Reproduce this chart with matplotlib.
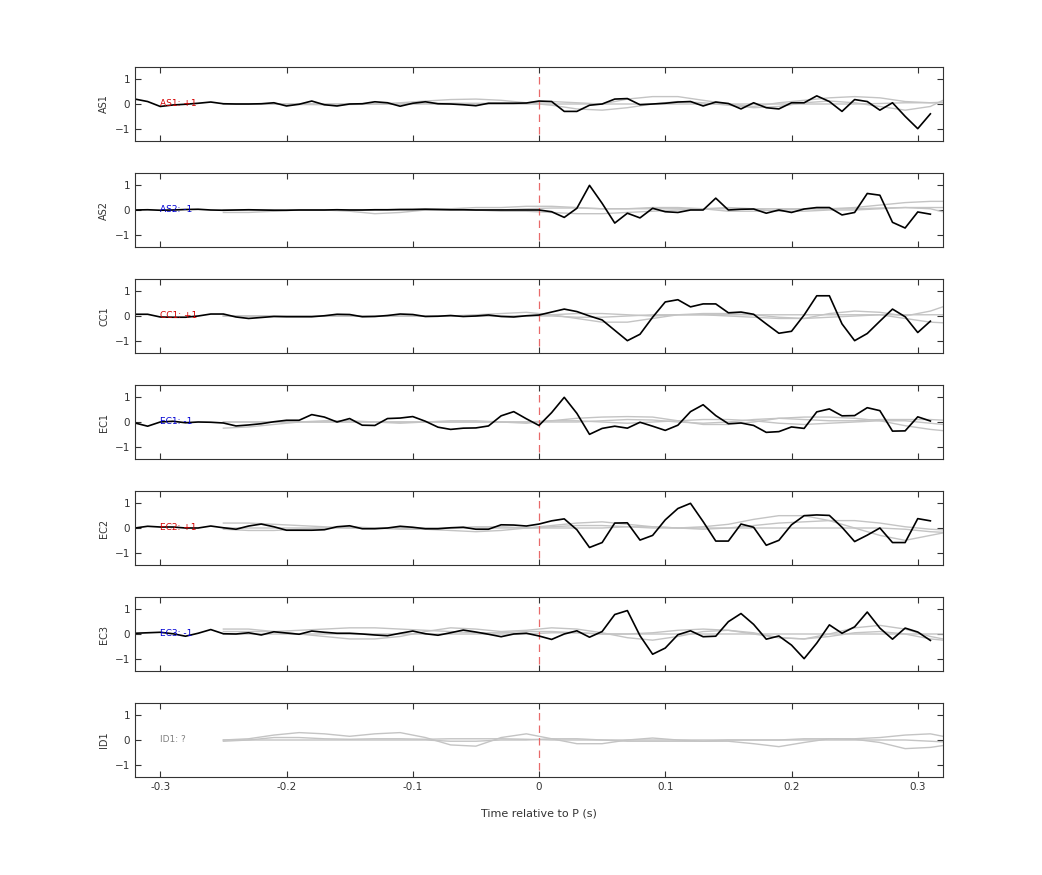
import numpy as np
import matplotlib
matplotlib.use("Agg")
import matplotlib.pyplot as plt

stations = ["AS1", "AS2", "CC1", "EC1", "EC2", "EC3", "ID1"]
polarity = ["+1", "-1", "+1", "-1", "+1", "-1", "?"]
label_colors = ["#d40000", "#0000d4", "#d40000", "#0000d4", "#d40000", "#0000d4", "#808080"]

# black traces, one sample every 0.01 s from -0.32 to 0.31
t = np.round(np.arange(-0.32, 0.315, 0.01), 2)
traces = {
    "AS1": [0.2, 0.1, -0.1, -0.04, -0.01, 0.03, 0.08, 0.01, 0.0, 0.0, 0.01, 0.05, -0.08, -0.01, 0.12, -0.03,
            -0.08, 0.0, 0.01, 0.09, 0.05, -0.09, 0.03, 0.09, 0.01, 0.0, -0.03, -0.07, 0.03, 0.03, 0.03, 0.04,
            0.12, 0.1, -0.3, -0.3, -0.05, 0.0, 0.2, 0.22, -0.03, 0.0, 0.03, 0.08, 0.1, -0.08, 0.08, 0.02,
            -0.2, 0.05, -0.15, -0.2, 0.05, 0.05, 0.33, 0.1, -0.3, 0.18, 0.1, -0.25, 0.05, -0.5, -1.0, -0.4],
    "AS2": [0.0, 0.01, -0.01, 0.0, 0.02, 0.03, 0.0, -0.01, 0.0, 0.01, 0.0, -0.01, -0.01, 0.0, 0.0, 0.0,
            0.01, 0.0, 0.0, 0.01, 0.01, 0.02, 0.02, 0.03, 0.02, 0.01, 0.01, 0.0, 0.0, 0.0, 0.0, 0.0,
            0.0, -0.07, -0.3, 0.07, 1.0, 0.27, -0.53, -0.13, -0.32, 0.07, -0.07, -0.1, 0.0, 0.0, 0.48, 0.0,
            0.03, 0.04, -0.13, 0.0, -0.1, 0.04, 0.1, 0.1, -0.2, -0.1, 0.67, 0.6, -0.5, -0.73, -0.08, -0.17],
    "CC1": [0.07, 0.07, -0.04, -0.05, -0.05, 0.0, 0.08, 0.08, -0.04, -0.1, -0.06, -0.02, -0.03, -0.03, -0.03, 0.01,
            0.07, 0.06, -0.03, -0.02, 0.02, 0.08, 0.06, -0.02, -0.01, 0.02, -0.02, 0.0, 0.04, -0.02, -0.04, 0.01,
            0.04, 0.16, 0.28, 0.18, 0.0, -0.16, -0.58, -1.0, -0.74, -0.05, 0.57, 0.66, 0.37, 0.49, 0.49, 0.13,
            0.16, 0.07, -0.32, -0.7, -0.62, 0.04, 0.82, 0.82, -0.32, -1.0, -0.71, -0.21, 0.28, -0.03, -0.67, -0.21],
    "EC1": [-0.04, -0.17, 0.0, 0.03, -0.03, 0.0, -0.01, -0.04, -0.16, -0.12, -0.07, 0.01, 0.07, 0.07, 0.3, 0.2,
            0.0, 0.14, -0.13, -0.14, 0.14, 0.16, 0.22, 0.03, -0.21, -0.3, -0.25, -0.24, -0.16, 0.25, 0.42, 0.13,
            -0.14, 0.38, 1.0, 0.35, -0.5, -0.26, -0.17, -0.25, -0.01, -0.17, -0.34, -0.13, 0.42, 0.7, 0.26, -0.07,
            -0.04, -0.14, -0.42, -0.39, -0.2, -0.26, 0.41, 0.53, 0.25, 0.26, 0.58, 0.46, -0.37, -0.36, 0.21, 0.04],
    "EC2": [0.0, 0.07, 0.04, 0.04, 0.0, 0.0, 0.08, 0.01, -0.05, 0.08, 0.16, 0.05, -0.09, -0.09, -0.09, -0.07,
            0.05, 0.09, -0.03, -0.03, 0.0, 0.07, 0.03, -0.03, -0.03, 0.01, 0.03, -0.05, -0.05, 0.13, 0.12, 0.08,
            0.16, 0.29, 0.37, -0.07, -0.79, -0.59, 0.2, 0.21, -0.49, -0.3, 0.33, 0.79, 1.0, 0.26, -0.53, -0.53,
            0.16, 0.03, -0.7, -0.5, 0.13, 0.5, 0.53, 0.51, 0.03, -0.55, -0.29, 0.0, -0.59, -0.59, 0.38, 0.29],
    "EC3": [0.03, 0.05, 0.07, 0.01, -0.09, 0.03, 0.18, 0.01, 0.0, 0.05, -0.04, 0.09, 0.04, -0.01, 0.12, 0.07,
            0.03, 0.03, 0.0, -0.04, -0.07, 0.03, 0.12, 0.01, -0.05, 0.05, 0.16, 0.08, -0.01, -0.11, 0.0, 0.03,
            -0.08, -0.22, 0.0, 0.13, -0.13, 0.1, 0.79, 0.95, -0.07, -0.82, -0.57, -0.03, 0.13, -0.11, -0.09, 0.5,
            0.83, 0.39, -0.21, -0.08, -0.45, -1.0, -0.37, 0.37, 0.03, 0.29, 0.89, 0.24, -0.21, 0.24, 0.08, -0.26],
    "ID1": None,
}

# grey reference traces, one sample every 0.02 s from -0.25 to 0.33
tg = np.round(np.arange(-0.25, 0.335, 0.02), 2)
grey = {
    "AS1": [
        [0, 0, 0, -0.02, -0.03, -0.02, 0, 0.05, 0.12, 0.18, 0.2, 0.15, 0.05, -0.05, -0.2, -0.25, -0.15, 0, 0.1, 0.05, -0.05, -0.15, -0.1, 0.05, 0.12, 0.05, -0.1, -0.25, -0.1, 0.4],
        [0, 0, 0, 0, 0, 0, 0, 0, 0.02, 0.03, 0.03, 0.02, 0.05, 0.1, 0.05, 0, 0.2, 0.3, 0.3, 0.15, 0, -0.1, 0.05, 0.15, 0.25, 0.3, 0.25, 0.1, 0.05, 0.1],
        [0, 0, 0, 0, 0, 0, 0, 0, 0, 0, 0, 0, 0, 0, 0, 0, 0, 0, 0, 0, 0, 0, 0, 0, 0, 0, 0.02, 0.05, 0.05, 0.05],
    ],
    "AS2": [
        [-0.1, -0.1, -0.05, 0, 0, -0.05, -0.15, -0.1, 0, 0.05, 0.1, 0.1, 0.15, 0.15, 0.1, 0.05, 0.05, 0.1, 0.1, 0.05, -0.05, -0.05, 0, 0.05, 0.05, 0.1, 0.2, 0.3, 0.35, 0.35],
        [0, 0, 0, 0, 0, 0, 0, 0.02, 0.05, 0.05, 0, -0.05, -0.05, -0.1, -0.15, -0.15, -0.1, -0.05, 0, 0.05, 0.1, 0.05, -0.05, -0.05, 0, 0, 0.05, 0.1, 0.05, -0.2],
        [0, 0, 0, 0, 0, 0, 0, 0, 0, 0, 0, 0, 0.05, 0.08, 0.08, 0.05, 0.05, 0.05, 0.05, 0.05, 0.05, 0.05, 0.05, 0.05, 0.05, 0.05, 0.08, 0.1, 0.1, 0.1],
    ],
    "CC1": [
        [0, 0, 0, 0, 0, 0, 0, 0, 0, 0, 0.05, 0.1, 0.15, 0.05, -0.1, -0.25, -0.25, -0.1, 0.05, 0.05, 0, -0.05, -0.1, -0.1, 0.1, 0.2, 0.15, 0, 0.2, 0.55],
        [0, 0, 0, 0, 0, 0, 0, 0, 0, 0, 0, 0, 0, 0.05, 0.1, 0.1, 0.05, 0, 0.05, 0.1, 0.1, 0.05, -0.05, -0.1, -0.05, 0, 0.05, -0.1, -0.25, -0.3],
        [0, 0, 0, 0, 0, 0, 0, 0, 0, 0, 0, 0, 0, 0, -0.05, -0.05, 0, 0.05, 0.05, 0.05, 0.05, 0.05, 0.05, 0.05, 0.05, 0.05, 0.05, 0.05, 0.05, 0.05],
    ],
    "EC1": [
        [-0.25, -0.2, -0.1, 0, 0.05, 0.05, 0, -0.05, 0, 0.05, 0.05, 0, -0.05, 0.05, 0.15, 0.2, 0.22, 0.2, 0.05, -0.1, -0.1, 0, 0.15, 0.2, 0.2, 0.15, 0.05, -0.15, -0.3, -0.4],
        [0, 0, 0, 0, 0, 0, 0, 0, 0, 0, 0, 0, 0, 0.05, 0.05, 0, -0.05, 0, 0.05, 0.1, 0.1, 0.05, -0.05, -0.1, -0.05, 0, 0.05, 0.05, -0.05, -0.15],
        [0, 0, 0, 0, 0, 0, 0, 0, 0, 0, 0, 0, 0, 0, 0, 0.05, 0.1, 0.08, 0, -0.05, 0, 0.1, 0.15, 0.1, 0.05, 0.05, 0.1, 0.1, 0.1, 0.05],
    ],
    "EC2": [
        [0.2, 0.2, 0.15, 0.1, 0.05, 0, 0, 0, -0.05, -0.1, -0.15, -0.1, 0, 0.1, 0.2, 0.25, 0.15, 0.05, 0, 0.05, 0.15, 0.35, 0.5, 0.5, 0.3, 0, -0.3, -0.5, -0.3, -0.1],
        [-0.05, -0.1, -0.1, -0.05, 0, 0.05, 0, -0.05, -0.05, 0, 0.05, 0.05, 0, 0, 0, 0, 0.05, 0.05, 0, -0.05, 0, 0.1, 0.2, 0.25, 0.3, 0.3, 0.2, 0.05, -0.05, -0.1],
        [0, 0, 0, 0, 0, 0, 0, 0, 0, 0, 0, 0, 0, 0.05, 0.1, 0.1, 0.05, 0, 0, 0, 0, 0, 0, 0, 0, 0, 0, -0.05, -0.15, -0.2],
    ],
    "EC3": [
        [0.2, 0.2, 0.1, 0, -0.1, -0.2, -0.2, -0.1, 0.1, 0.25, 0.2, 0.1, 0.15, 0.25, 0.2, 0.05, -0.15, -0.25, -0.1, 0.1, 0.15, 0.05, -0.15, -0.2, 0, 0.25, 0.35, 0.2, -0.1, -0.3],
        [0.1, 0.1, 0.1, 0.15, 0.2, 0.25, 0.25, 0.2, 0.15, 0.1, 0.05, 0.05, 0.1, 0.1, 0.05, 0, 0, 0.05, 0.15, 0.2, 0.15, 0, -0.15, -0.2, -0.1, 0.05, 0.1, 0, -0.2, -0.3],
        [0, 0, 0, 0, 0, 0, 0, 0, 0, 0, 0, 0, 0, 0.05, 0.05, 0, 0, 0, 0, 0, 0, 0, 0, 0, 0, 0, 0, 0, 0, 0],
    ],
    "ID1": [
        [0, 0.05, 0.2, 0.3, 0.25, 0.15, 0.25, 0.3, 0.1, -0.2, -0.25, 0.1, 0.25, 0.05, -0.15, -0.15, 0, 0.08, 0, -0.05, -0.05, -0.15, -0.27, -0.1, 0.05, 0.03, -0.1, -0.35, -0.3, -0.15],
        [-0.05, 0, 0.1, 0.1, 0.05, 0.03, 0.05, 0.05, 0.03, 0.05, 0.05, 0.05, 0.03, 0, 0, 0, 0, 0, 0, 0, 0, 0, 0, 0.05, 0.05, 0.05, 0.1, 0.2, 0.25, 0.05],
        [0, 0, 0, 0, 0, 0, 0, 0, 0, -0.05, -0.05, 0, 0, 0.05, 0.05, 0, -0.05, -0.05, -0.05, -0.05, 0, 0, 0, 0, 0, 0, 0, 0, -0.05, -0.1],
    ],
}

fig = plt.figure(figsize=(10.42, 8.75), dpi=100)
W, H = 1042, 875
for i, st in enumerate(stations):
    top = 67 + 106 * i
    ax = fig.add_axes([135 / W, 1 - (top + 74) / H, 808 / W, 74 / H])
    for g in grey[st]:
        ax.plot(tg, g, color="#c4c4c4", lw=1.0)
    ax.plot([0, 0], [-1.2, 1.2], color="#e86a6a", lw=0.9, dashes=(6, 4))
    if traces[st] is not None:
        ax.plot(t, traces[st], color="black", lw=1.2)
    ax.text(-0.3, 0, f"{st}: {polarity[i]}", color=label_colors[i], fontsize=6.5, va="center", zorder=10)
    ax.set_xlim(-0.32, 0.32)
    ax.set_ylim(-1.5, 1.5)
    ax.set_yticks([-1, 0, 1])
    ax.set_xticks([-0.3, -0.2, -0.1, 0, 0.1, 0.2, 0.3])
    ax.tick_params(direction="in", top=True, right=True, labelsize=7.5, length=4, color="#333333", labelcolor="#333333")
    ax.set_ylabel(st, fontsize=7, color="#333333")
    for s in ax.spines.values():
        s.set_color("#333333")
    if i < len(stations) - 1:
        ax.set_xticklabels([])
    else:
        ax.set_xticklabels(["-0.3", "-0.2", "-0.1", "0", "0.1", "0.2", "0.3"])
        ax.set_xlabel("Time relative to P (s)", fontsize=8, color="#333333", labelpad=12)

fig.savefig("out.png", dpi=100)
